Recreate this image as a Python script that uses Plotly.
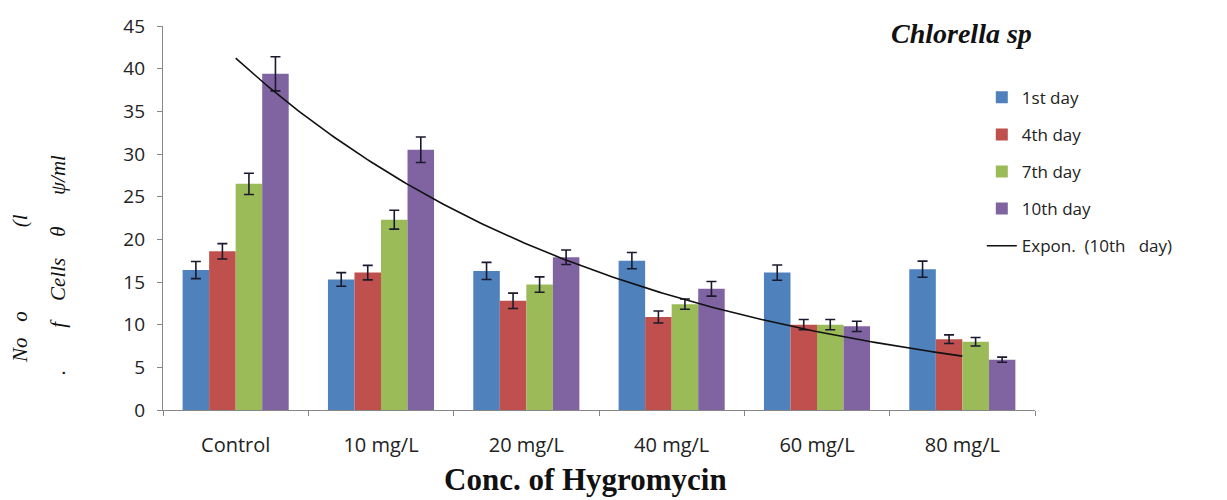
import numpy as np
import plotly.graph_objects as go

categories = ["Control", "10 mg/L", "20 mg/L", "40 mg/L", "60 mg/L", "80 mg/L"]
series_names = ["1st day", "4th day", "7th day", "10th day"]
day1 = [16.4, 15.3, 16.3, 17.5, 16.1, 16.5]
day4 = [18.6, 16.1, 12.8, 10.9, 10.0, 8.3]
day7 = [26.5, 22.3, 14.7, 12.4, 10.0, 8.0]
day10 = [39.4, 30.5, 17.9, 14.2, 9.8, 5.9]
err1 = [1.0, 0.8, 1.0, 0.95, 0.9, 0.95]
err4 = [0.9, 0.85, 0.9, 0.7, 0.6, 0.5]
err7 = [1.25, 1.1, 0.9, 0.6, 0.6, 0.5]
err10 = [2.0, 1.5, 0.85, 0.85, 0.6, 0.3]
colors = ["#4F81BD", "#C0504D", "#9BBB59", "#8064A2"]
y_ticks = [0, 5, 10, 15, 20, 25, 30, 35, 40, 45]

xpos = np.arange(1, len(categories) + 1)
fig = go.Figure()
for i, (name, vals, errs) in enumerate(zip(series_names, [day1, day4, day7, day10],
                                           [err1, err4, err7, err10])):
    fig.add_trace(go.Bar(
        x=xpos, y=vals, name=name, legendgroup=name,
        marker=dict(color=colors[i], line=dict(width=0)),
        error_y=dict(type="data", array=errs, visible=True, color="#1a1a2e",
                     thickness=1.6, width=5),
    ))

# exponential trendline fitted to the 10th-day series
b, ln_a = np.polyfit(xpos, np.log(day10), 1)
xs = np.linspace(1, len(categories), 200)
fig.add_trace(go.Scatter(
    x=xs, y=np.exp(ln_a) * np.exp(b * xs), mode="lines",
    name="Expon.\u00a0\u00a0(10th\u00a0\u00a0\u00a0day)", legendgroup="trend",
    line=dict(color="#111111", width=1.6),
))

nb = "\u00a0"
ycol1 = "No" + nb * 3 + "o" + nb * 16 + "(l"
ycol2 = "." + nb * 8 + "f" + nb * 4 + "Cells" + nb * 4 + "θ" + nb * 6 + "ψ/ml"

fig.update_layout(
    width=1227, height=500,
    margin=dict(l=163, r=192, t=26, b=90),
    paper_bgcolor="white", plot_bgcolor="white",
    barmode="group", bargap=0.27, bargroupgap=0,
    font=dict(family="Open Sans", size=18, color="#222222"),
    showlegend=True,
    legend=dict(x=0.939, y=0.86, xanchor="left", yanchor="top",
                font=dict(family="Open Sans", size=17, color="#222222"),
                tracegroupgap=12, bgcolor="rgba(0,0,0,0)"),
    xaxis=dict(
        range=[0.5, len(categories) + 0.5], tickvals=list(xpos), ticktext=categories,
        ticks="", showgrid=False, zeroline=False,
        showline=True, linecolor="#868686", linewidth=1.3,
        tickfont=dict(family="Open Sans", size=20, color="#222222"),
        ticklabelstandoff=17,
        minor=dict(tickvals=list(np.arange(0.5, len(categories) + 1, 1.0)),
                   ticks="outside", ticklen=5, tickcolor="#868686", tickwidth=1.2,
                   showgrid=False),
    ),
    yaxis=dict(
        range=[0, 45], tickvals=y_ticks, ticks="outside", ticklen=5,
        tickcolor="#868686", showgrid=False, zeroline=False,
        showline=True, linecolor="#868686", linewidth=1.3,
        tickfont=dict(family="Open Sans", size=19, color="#222222"),
        ticklabelstandoff=8,
    ),
    annotations=[
        dict(text="<b><i>Chlorella sp</i></b>", xref="paper", yref="paper",
             x=0.916, y=0.98, xanchor="center", yanchor="middle", showarrow=False,
             font=dict(family="Liberation Serif", size=28, color="#111111")),
        dict(text="<b>Conc. of Hygromycin</b>", xref="paper", yref="paper",
             x=0.485, y=-0.18, xanchor="center", yanchor="middle", showarrow=False,
             font=dict(family="Liberation Serif", size=31, color="#111111")),
        dict(text="<i>" + ycol1 + "</i>", xref="paper", yref="paper",
             x=(20 - 163) / 872, y=1 - (289 - 26) / 384,
             xanchor="center", yanchor="middle", showarrow=False, textangle=-90,
             font=dict(family="Liberation Serif", size=21, color="#111111")),
        dict(text="<i>" + ycol2 + "</i>", xref="paper", yref="paper",
             x=(58 - 163) / 872, y=1 - (265 - 26) / 384,
             xanchor="center", yanchor="middle", showarrow=False, textangle=-90,
             font=dict(family="Liberation Serif", size=21, color="#111111")),
    ],
)

fig.write_html("out.html", config={"displayModeBar": False},
               post_script="document.body.style.margin='0px';")
